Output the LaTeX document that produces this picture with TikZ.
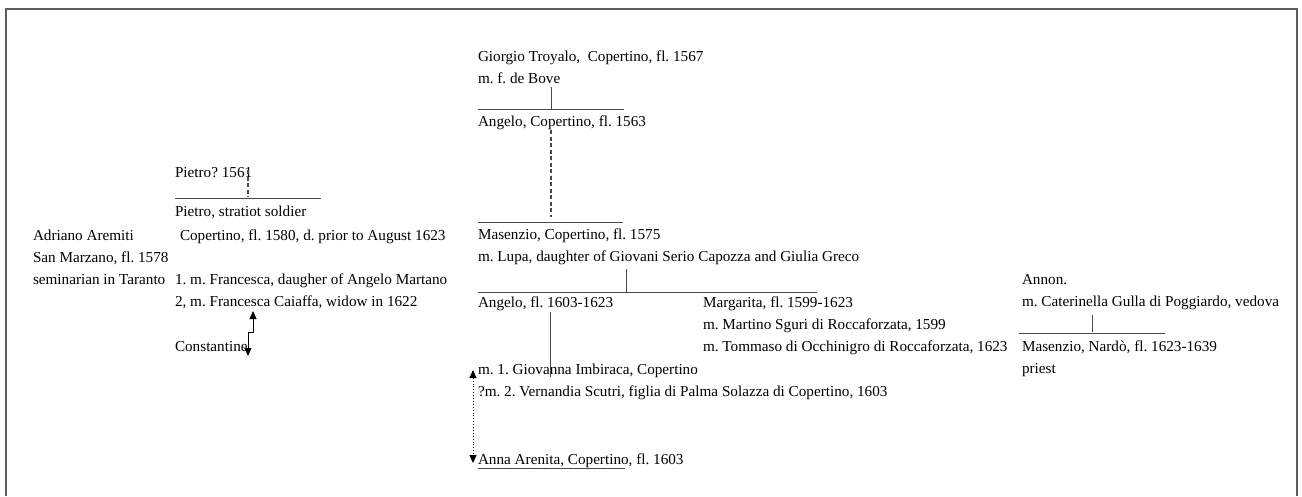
\documentclass[tikz,border=0pt]{standalone}
\usepackage{fontspec}
\setmainfont{Liberation Serif}
\usetikzlibrary{arrows.meta}
\definecolor{framegray}{HTML}{5E5E5E}
\definecolor{linegray}{HTML}{484848}
\frenchspacing
\begin{document}
\begin{tikzpicture}[x=1pt,y=-1pt,
  txt/.style={anchor=base west,inner sep=0pt,outer sep=0pt,font=\fontsize{15.2}{18}\selectfont},
  bar/.style={draw=linegray,line width=1pt},
  dsh/.style={draw=linegray,line width=1.2pt,dash pattern=on 4pt off 2.5pt},
  dblarrow/.style={{Triangle[width=7pt,length=8pt]}-{Triangle[width=7pt,length=8pt]},line width=0.9pt,black}]
\useasboundingbox (0,0) rectangle (1302,496);
\draw[framegray,line width=2.2pt] (6,496) -- (6,9) -- (1297,9) -- (1297,496);

% centre column
\node[txt] (giorgio) at (478,61) {Giorgio Troyalo,\ \ Copertino, fl. 1567};
\node[txt] (bove) at (478,83) {m. f. de Bove};
\node[txt] (angelo1) at (478,126) {Angelo, Copertino, fl. 1563};
\node[txt] (masenzio) at (478,239) {Masenzio, Copertino, fl. 1575};
\node[txt] (lupa) at (478,261) {m. Lupa, daughter of Giovani Serio Capozza and Giulia Greco};
\node[txt] (angelo2) at (478,307) {Angelo, fl. 1603-1623};
\node[txt] (margarita) at (703,307) {Margarita, fl. 1599-1623};
\node[txt] (martino) at (703,329) {m. Martino Sguri di Roccaforzata, 1599};
\node[txt] (tommaso) at (703,351) {m. Tommaso di Occhinigro di Roccaforzata, 1623};
\node[txt] (giovanna) at (478,374) {m. 1. Giovanna Imbiraca, Copertino};
\node[txt] (vernandia) at (478,396) {?m. 2. Vernandia Scutri, figlia di Palma Solazza di Copertino, 1603};
\node[txt] (anna) at (478,464) {Anna Arenita, Copertino, fl. 1603};

% left columns
\node[txt] (pietro0) at (175,177) {Pietro? 1561};
\node[txt] (pietro) at (175,216) {Pietro, stratiot soldier};
\node[txt] (pietrob) at (180,240) {Copertino, fl. 1580, d. prior to August 1623};
\node[txt] (fran1) at (175,284) {1. m. Francesca, daugher of Angelo Martano};
\node[txt] (fran2) at (175,306) {2, m. Francesca Caiaffa, widow in 1622};
\node[txt] (constantine) at (175,351) {Constantine};
\node[txt] (adriano) at (33,240) {Adriano Aremiti};
\node[txt] (sanmarzano) at (33,262) {San Marzano, fl. 1578};
\node[txt] (seminarian) at (33,284) {seminarian in Taranto};

% right column
\node[txt] (annon) at (1022,284) {Annon.};
\node[txt] (caterinella) at (1022,306) {m. Caterinella Gulla di Poggiardo, vedova};
\node[txt] (masenzio2) at (1022,351) {Masenzio, Nard\`o, fl. 1623-1639};
\node[txt] (priest) at (1022,373) {priest};

% connectors: Troyalo line
\coordinate (c1a) at (551,87);
\coordinate (c1b) at (551,109);
\draw[bar] (c1a) -- (c1b);
\draw[bar] (478,109) -- (624,109);
\coordinate (c2a) at (551,130);
\coordinate (c2b) at (551,217);
\draw[dsh] (c2a) -- (c2b);
\draw[bar] (478,222) -- (623,222);
\coordinate (c3a) at (626,269);
\coordinate (c3b) at (626,292);
\draw[bar] (c3a) -- (c3b);
\draw[bar] (478,292) -- (817,292);
\coordinate (c4a) at (550,312);
\coordinate (c4b) at (550,377);
\draw[bar] (c4a) -- (c4b);
\draw[bar] (478,468) -- (625,468);
\coordinate (c5a) at (473,370);
\coordinate (c5b) at (473,463);
\draw[dblarrow,dotted] (c5a) -- (c5b);

% Pietro
\coordinate (p1a) at (248,170);
\coordinate (p1b) at (248,197);
\draw[dsh] (p1a) -- (p1b);
\draw[bar] (175,198) -- (321,198);
\coordinate (k1) at (253,311);
\coordinate (k2) at (248,356);
\draw[dblarrow] (k1) -- (253,332) -- (248,332) -- (k2);

% Annon
\coordinate (a1a) at (1092,315);
\coordinate (a1b) at (1092,332);
\draw[bar] (a1a) -- (a1b);
\draw[bar] (1019,333) -- (1165,333);
\end{tikzpicture}
\end{document}
